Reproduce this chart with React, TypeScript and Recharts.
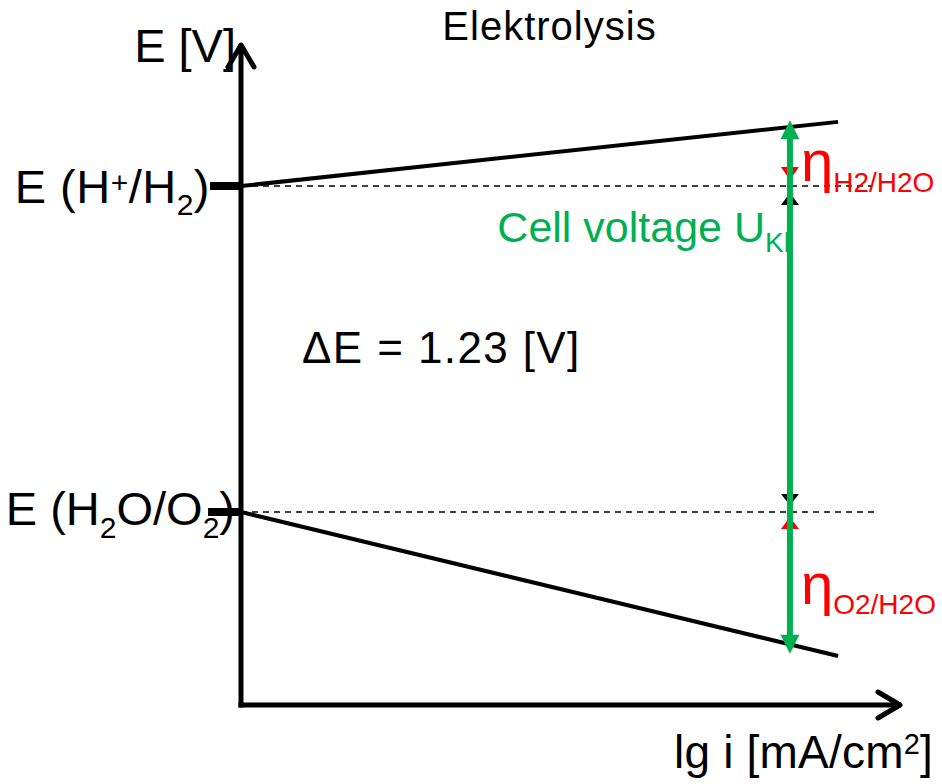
import React from 'react'
import { LineChart, Line, XAxis, YAxis, ReferenceLine, ReferenceDot } from 'recharts'

// schematic potentials [V] and lg i positions (arbitrary units along the current axis)
const eH2 = 1.23
const eO2 = 0
const deltaE = '1.23'
const lgIMax = 10
const eMin = -0.728
const eMax = 1.762

const cathodeLgI = [0, 9.06]
const cathodeE = [1.23, 1.472]
const anodeLgI = [0, 9.06]
const anodeE = [0, -0.543]

const dashEndH2 = 9.58
const dashEndO2 = 9.62
const tickStartH2 = -0.47
const tickStartO2 = -0.5

const opLgI = 8.33
const cellTop = 1.478
const cellBottom = -0.535

// small arrow heads: [base, tip]
const etaH2Red = [1.302, 1.253]
const etaH2Black = [1.158, 1.204]
const etaO2Black = [0.068, 0.026]
const etaO2Red = [-0.064, -0.019]

const cathodeData = cathodeLgI.map((x, i) => ({ x, e: cathodeE[i] }))
const anodeData = anodeLgI.map((x, i) => ({ x, e: anodeE[i] }))

const FONT = 'Liberation Sans, Arial, sans-serif'
const GREEN = '#00B050'
const RED = '#FF0000'

const dir = (p: any) => {
  const len = Math.hypot(p.x2 - p.x1, p.y2 - p.y1) || 1
  const ux = (p.x2 - p.x1) / len
  const uy = (p.y2 - p.y1) / len
  return { ux, uy, nx: -uy, ny: ux }
}

const AxisArrow = (p: any) => {
  const { ux, uy, nx, ny } = dir(p)
  const L = 22
  const W = 13
  return (
    <g>
      <line x1={p.x1} y1={p.y1} x2={p.x2 - ux * 2} y2={p.y2 - uy * 2} stroke="#000" strokeWidth={5} strokeLinecap="square" />
      <polyline
        points={`${p.x2 - ux * L + nx * W},${p.y2 - uy * L + ny * W} ${p.x2},${p.y2} ${p.x2 - ux * L - nx * W},${p.y2 - uy * L - ny * W}`}
        fill="none"
        stroke="#000"
        strokeWidth={5}
        strokeLinecap="round"
        strokeLinejoin="round"
      />
    </g>
  )
}

const DoubleArrow = (p: any) => {
  const { ux, uy, nx, ny } = dir(p)
  const H = 19
  const W = 9.5
  const head = (tx: number, ty: number, sx: number, sy: number) =>
    `${tx},${ty} ${tx - sx * H + nx * W},${ty - sy * H + ny * W} ${tx - sx * H - nx * W},${ty - sy * H - ny * W}`
  return (
    <g>
      <line x1={p.x1 + ux * (H - 1)} y1={p.y1 + uy * (H - 1)} x2={p.x2 - ux * (H - 1)} y2={p.y2 - uy * (H - 1)} stroke={GREEN} strokeWidth={6} />
      <polygon points={head(p.x2, p.y2, ux, uy)} fill={GREEN} />
      <polygon points={head(p.x1, p.y1, -ux, -uy)} fill={GREEN} />
    </g>
  )
}

const tip = (color: string) => (p: any) => {
  const { nx, ny } = dir(p)
  const W = 9
  return (
    <polygon
      points={`${p.x2},${p.y2} ${p.x1 + nx * W},${p.y1 + ny * W} ${p.x1 - nx * W},${p.y1 - ny * W}`}
      fill={color}
    />
  )
}

const textAt = (render: (x: number, y: number) => React.ReactNode) => (p: any) => <g>{render(p.cx, p.cy)}</g>

export default function App() {
  return (
    <div style={{ position: 'absolute', left: 0, top: 0, width: 942, height: 784, background: '#fff' }}>
      <LineChart width={942} height={784} margin={{ top: 45, right: 42, bottom: 79, left: 241 }}>
        <XAxis type="number" dataKey="x" domain={[0, lgIMax]} hide allowDataOverflow />
        <YAxis type="number" dataKey="e" domain={[eMin, eMax]} hide allowDataOverflow />

        {/* equilibrium levels */}
        <ReferenceLine segment={[{ x: 0, y: eH2 }, { x: dashEndH2, y: eH2 }]} stroke="#000" strokeWidth={1.5} strokeDasharray="6 5" ifOverflow="visible" />
        <ReferenceLine segment={[{ x: 0, y: eO2 }, { x: dashEndO2, y: eO2 }]} stroke="#000" strokeWidth={1.5} strokeDasharray="6 5" ifOverflow="visible" />
        <ReferenceLine segment={[{ x: tickStartH2, y: eH2 }, { x: 0, y: eH2 }]} stroke="#000" strokeWidth={8} ifOverflow="visible" />
        <ReferenceLine segment={[{ x: tickStartO2, y: eO2 }, { x: 0, y: eO2 }]} stroke="#000" strokeWidth={8} ifOverflow="visible" />

        {/* axes */}
        <ReferenceLine segment={[{ x: 0, y: eMin }, { x: 0, y: eMax }]} shape={AxisArrow} ifOverflow="visible" />
        <ReferenceLine segment={[{ x: 0, y: eMin }, { x: lgIMax, y: eMin }]} shape={AxisArrow} ifOverflow="visible" />

        <Line data={cathodeData} dataKey="e" type="linear" stroke="#000" strokeWidth={4} dot={false} isAnimationActive={false} />
        <Line data={anodeData} dataKey="e" type="linear" stroke="#000" strokeWidth={4} dot={false} isAnimationActive={false} />

        {/* overpotential markers */}
        <ReferenceLine segment={[{ x: opLgI, y: etaH2Red[0] }, { x: opLgI, y: etaH2Red[1] }]} shape={tip(RED)} ifOverflow="visible" />
        <ReferenceLine segment={[{ x: opLgI, y: etaH2Black[0] }, { x: opLgI, y: etaH2Black[1] }]} shape={tip('#000')} ifOverflow="visible" />
        <ReferenceLine segment={[{ x: opLgI, y: etaO2Black[0] }, { x: opLgI, y: etaO2Black[1] }]} shape={tip('#000')} ifOverflow="visible" />
        <ReferenceLine segment={[{ x: opLgI, y: etaO2Red[0] }, { x: opLgI, y: etaO2Red[1] }]} shape={tip(RED)} ifOverflow="visible" />

        {/* cell voltage */}
        <ReferenceLine segment={[{ x: opLgI, y: cellBottom }, { x: opLgI, y: cellTop }]} shape={DoubleArrow} ifOverflow="visible" />

        {/* texts */}
        <ReferenceDot x={lgIMax / 2} y={eMax} ifOverflow="visible" shape={textAt((x, y) => (
          <text x={x - 21} y={y - 5} textAnchor="middle" fontFamily={FONT} fontSize={40} letterSpacing={1} fill="#000">Elektrolysis</text>
        ))} />
        <ReferenceDot x={0} y={eMax} ifOverflow="visible" shape={textAt((x, y) => (
          <text x={x - 5} y={y + 17} textAnchor="end" fontFamily={FONT} fontSize={47} fill="#000">E [V]</text>
        ))} />
        <ReferenceDot x={0} y={eH2} ifOverflow="visible" shape={textAt((x, y) => (
          <text x={x - 31} y={y + 17} textAnchor="end" fontFamily={FONT} fontSize={47} letterSpacing={0.5} fill="#000">
            <tspan>E (H</tspan>
            <tspan fontSize={30} dy={-10}>+</tspan>
            <tspan dy={10}>/H</tspan>
            <tspan fontSize={30} dy={12}>2</tspan>
            <tspan dy={-12}>)</tspan>
          </text>
        ))} />
        <ReferenceDot x={0} y={eO2} ifOverflow="visible" shape={textAt((x, y) => (
          <text x={x - 6} y={y + 13} textAnchor="end" fontFamily={FONT} fontSize={47} fill="#000">
            <tspan>E (H</tspan>
            <tspan fontSize={30} dy={13}>2</tspan>
            <tspan dy={-13}>O/O</tspan>
            <tspan fontSize={30} dy={13}>2</tspan>
            <tspan dy={-13}>)</tspan>
          </text>
        ))} />
        <ReferenceDot x={0} y={(eH2 + eO2) / 2} ifOverflow="visible" shape={textAt((x, y) => (
          <text x={x + 61} y={y + 14} fontFamily={FONT} fontSize={44} letterSpacing={1.4} fill="#000">{`ΔE = ${deltaE} [V]`}</text>
        ))} />
        <ReferenceDot x={opLgI} y={eH2} ifOverflow="visible" shape={textAt((x, y) => (
          <text x={x} y={y + 56} textAnchor="end" fontFamily={FONT} fontSize={43} fill={GREEN}>
            <tspan>Cell voltage U</tspan>
            <tspan fontSize={28} dy={10}>Kl</tspan>
          </text>
        ))} />
        <ReferenceDot x={opLgI} y={eH2} ifOverflow="visible" shape={textAt((x, y) => (
          <text x={x + 11} y={y - 5} fontFamily={FONT} fontSize={58} fill={RED}>
            <tspan>η</tspan>
            <tspan fontSize={28} dy={11}>H2/H2O</tspan>
          </text>
        ))} />
        <ReferenceDot x={opLgI} y={eO2} ifOverflow="visible" shape={textAt((x, y) => (
          <text x={x + 11} y={y + 92} fontFamily={FONT} fontSize={58} fill={RED}>
            <tspan>η</tspan>
            <tspan fontSize={28} dy={10}>O2/H2O</tspan>
          </text>
        ))} />
        <ReferenceDot x={lgIMax} y={eMin} ifOverflow="visible" shape={textAt((x, y) => (
          <text x={x + 33} y={y + 63} textAnchor="end" fontFamily={FONT} fontSize={46} letterSpacing={0.2} fill="#000">
            <tspan>lg i [mA/cm</tspan>
            <tspan fontSize={29} dy={-14}>2</tspan>
            <tspan dy={14}>]</tspan>
          </text>
        ))} />
      </LineChart>
    </div>
  )
}
